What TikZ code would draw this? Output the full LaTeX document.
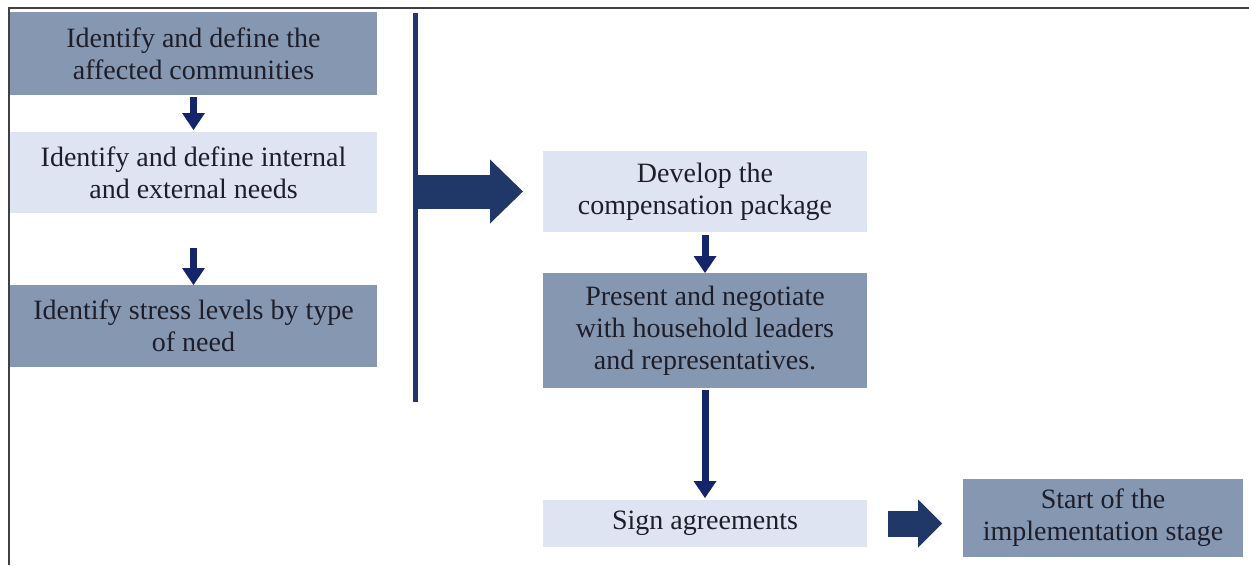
\documentclass[tikz,border=0pt]{standalone}
\usepackage{fontspec}
\setmainfont{Liberation Serif}
\usetikzlibrary{arrows.meta,positioning}

\definecolor{boxdark}{HTML}{8697B2}
\definecolor{boxlight}{HTML}{DEE4F2}
\definecolor{arrnavy}{HTML}{14256A}
\definecolor{barblue}{HTML}{1F3867}
\definecolor{txtgray}{HTML}{1E1E2A}

\begin{document}
\begin{tikzpicture}[x=1pt,y=1pt,
  box/.style={inner sep=2pt,outer sep=0pt,align=center,text=txtgray,font=\fontsize{28}{32}\selectfont},
  darkbox/.style={box,fill=boxdark},
  lightbox/.style={box,fill=boxlight},
  downarr/.style={arrnavy,line width=7pt,-{Triangle[length=17pt,width=23pt,line width=0pt]}},
  bigarr/.style={barblue,line width=34pt,-{Triangle[length=33pt,width=64pt,line width=0pt]}},
  smallarr/.style={barblue,line width=26pt,-{Triangle[length=24pt,width=48pt,line width=0pt]}}]
  \useasboundingbox (0,0) rectangle (1249,-565);
  \draw[line width=2pt,black!75] (9,-565) -- (9,-8) -- (1249,-8);

  % left column
  \node[darkbox,anchor=north west,minimum width=367pt,minimum height=83pt] (affected) at (10,-12)
    {Identify and define the\\affected communities};
  \node[lightbox,minimum width=367pt,minimum height=81pt,below=37pt of affected] (needs)
    {Identify and define internal\\and external needs};
  \node[darkbox,minimum width=367pt,minimum height=82pt,below=72pt of needs] (stress)
    {Identify stress levels by type\\of need};

  \coordinate (bartop) at (415,-13);
  \coordinate (barbot) at (415,-402);
  \draw[barblue,line width=5pt] (bartop) -- (barbot);

  % right column
  \node[lightbox,anchor=north west,minimum width=324pt,minimum height=81pt] (package) at (543,-151)
    {Develop the\\compensation package};
  \node[darkbox,minimum width=324pt,minimum height=115pt,below=41pt of package] (negotiate)
    {Present and negotiate\\with household leaders\\and representatives.};
  \node[lightbox,minimum width=324pt,minimum height=47pt,below=112pt of negotiate] (sign)
    {Sign agreements};
  \node[darkbox,minimum width=280pt,minimum height=78pt,right=96pt of sign,yshift=6pt] (start)
    {Start of the\\implementation stage};

  \draw[downarr,shorten <=2pt,shorten >=2pt] (affected) -- (needs);
  \draw[downarr,shorten <=35pt] (needs) -- (stress);
  \draw[downarr,shorten <=3pt] (package) -- (negotiate);
  \draw[downarr,shorten <=2pt,shorten >=2pt] (negotiate) -- (sign);
  \draw[bigarr,shorten >=20pt] (bartop |- package.west) -- (package.west);
  \draw[smallarr,shorten <=21pt,shorten >=21pt] (sign.east) -- (sign.east -| start.west);
\end{tikzpicture}
\end{document}
